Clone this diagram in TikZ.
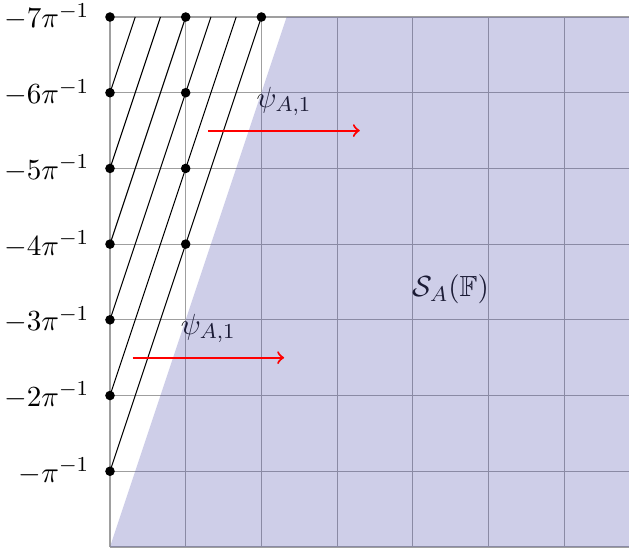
\documentclass[tikz,border=0pt]{standalone}
\usepackage{amsmath,amssymb}
\begin{document}
\begin{tikzpicture}[
    every node/.style={font=\fontsize{10.95}{13.6}\selectfont},
    gridline/.style={draw=gray!75, line width=0.45pt},
    lattice/.style={circle, fill=black, inner sep=0pt, minimum size=3.6pt},
    hatch/.style={draw=black, line width=0.4pt},
    region/.style={fill={rgb,255:red,92;green,92;blue,178}, fill opacity=0.3},
    shiftarrow/.style={->, draw=red, line width=0.8pt},
    ylab/.style={anchor=east}
]
\useasboundingbox (-1.453,-0.013) rectangle (6.856,7.225);
% grid
\draw[gridline] (0,0) grid (6.856,7);
\draw[gridline] (0,7) -- (6.856,7);
% labels on the left
\foreach \k in {1,...,7} {
    \ifnum\k=1
        \node[ylab] (lab\k) at (-0.15,\k) {$-\pi^{-1}$};
    \else
        \node[ylab] (lab\k) at (-0.15,\k) {$-\k\pi^{-1}$};
    \fi
}
% lattice points left of the line
\foreach \k in {1,...,7}
    \node[lattice] (p0\k) at (0,\k) {};
\foreach \k in {4,...,7}
    \node[lattice] (p1\k) at (1,\k) {};
\node[lattice] (p27) at (2,7) {};
% lines parallel to the boundary
\foreach \k in {1,...,6} {
    \coordinate (t\k) at ({(7-\k)/3},7);
    \draw[hatch] (p0\k.center) -- (t\k);
}
% arrows and texts
\coordinate (a1) at (1.3,5.5);
\coordinate (b1) at (3.3,5.5);
\coordinate (a2) at (0.3,2.5);
\coordinate (b2) at (2.3,2.5);
\path (a1) -- (b1) node[midway, above=2pt] (psi1) {$\psi_{A,1}$};
\path (a2) -- (b2) node[midway, above=2pt] (psi2) {$\psi_{A,1}$};
\node (SA) at (4.5,3.4) {$\mathcal{S}_A(\mathbb{F})$};
% shaded region
\path[region] (0,0) -- (7/3,7) -- (6.856,7) -- (6.856,0) -- cycle;
\draw[shiftarrow] (a1) -- (b1);
\draw[shiftarrow] (a2) -- (b2);
\end{tikzpicture}
\end{document}
